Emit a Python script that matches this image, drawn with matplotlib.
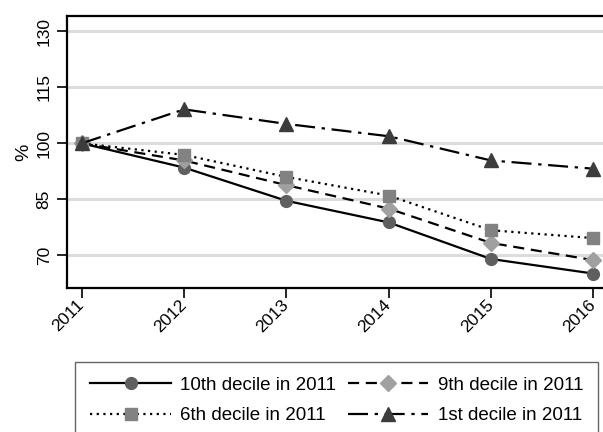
import numpy as np
import matplotlib
matplotlib.use('Agg')
import matplotlib.pyplot as plt

plt.rcParams['font.family'] = ['Liberation Sans', 'DejaVu Sans']

years = [2011, 2012, 2013, 2014, 2015, 2016]
decile_10 = [100, 93.5, 84.6, 78.8, 69.0, 65.1]
decile_9 = [100, 95.4, 88.8, 82.5, 73.3, 68.7]
decile_6 = [100, 96.9, 91.0, 86.0, 76.7, 74.6]
decile_1 = [100, 109.1, 105.2, 101.9, 95.4, 93.2]
yticks = [70, 85, 100, 115, 130]

series = [
    ('10th decile in 2011', decile_10, '-', 'o', '#5f5f5f', 8.5),
    ('9th decile in 2011', decile_9, (0, (5, 3)), 'D', '#a0a0a0', 8),
    ('6th decile in 2011', decile_6, (0, (1, 2)), 's', '#828282', 9),
    ('1st decile in 2011', decile_1, (0, (9, 3, 1.5, 3)), '^', '#3c3c3c', 9.5),
]

fig = plt.figure(figsize=(6.03, 4.32), dpi=100)
ax = fig.add_axes([67 / 603, 1 - 288.3 / 432, 1 - 67 / 603, (288.3 - 15.7) / 432])

lines = {}
for label, vals, ls, mk, col, ms in series:
    lines[label], = ax.plot(years, vals, color='black', linestyle=ls, linewidth=1.6,
                            marker=mk, markersize=ms, markerfacecolor=col,
                            markeredgecolor=col, label=label, clip_on=False, zorder=3)

ax.set_xlim(2010.856, 2016.094)
ax.set_ylim(61.15, 134.2)
ax.set_yticks(yticks)
ax.set_xticks(years)
ax.tick_params(direction='out', length=7, width=1.2, labelsize=12.5)
ax.tick_params(axis='y', labelrotation=90, pad=4)
ax.tick_params(axis='x', pad=3)
for lab in ax.get_yticklabels():
    lab.set_va('center')
for lab in ax.get_xticklabels():
    lab.set_rotation(45)
    lab.set_ha('right')
    lab.set_va('center')
    lab.set_rotation_mode('anchor')
ax.set_ylabel('%', fontsize=14, labelpad=3)
ax.grid(axis='y', color='#dcdcdc', linewidth=2.2, zorder=0)
ax.set_axisbelow(True)
for s in ['left', 'bottom', 'top']:
    ax.spines[s].set_linewidth(1.6)
ax.spines['right'].set_visible(False)

# legend filled column-wise, so order gives rows: 10th | 9th, 6th | 1st
order = ['10th decile in 2011', '6th decile in 2011', '9th decile in 2011', '1st decile in 2011']
fig.legend([lines[k] for k in order], order, loc='upper left',
           bbox_to_anchor=(75.3 / 603, 1 - 361.7 / 432), borderaxespad=0,
           ncol=2, fontsize=13.5, handlelength=4.3, frameon=True,
           fancybox=False, edgecolor='#404040', borderpad=0.8, labelspacing=0.7,
           columnspacing=0.6, handletextpad=0.5)

fig.savefig('out.png', dpi=100)
